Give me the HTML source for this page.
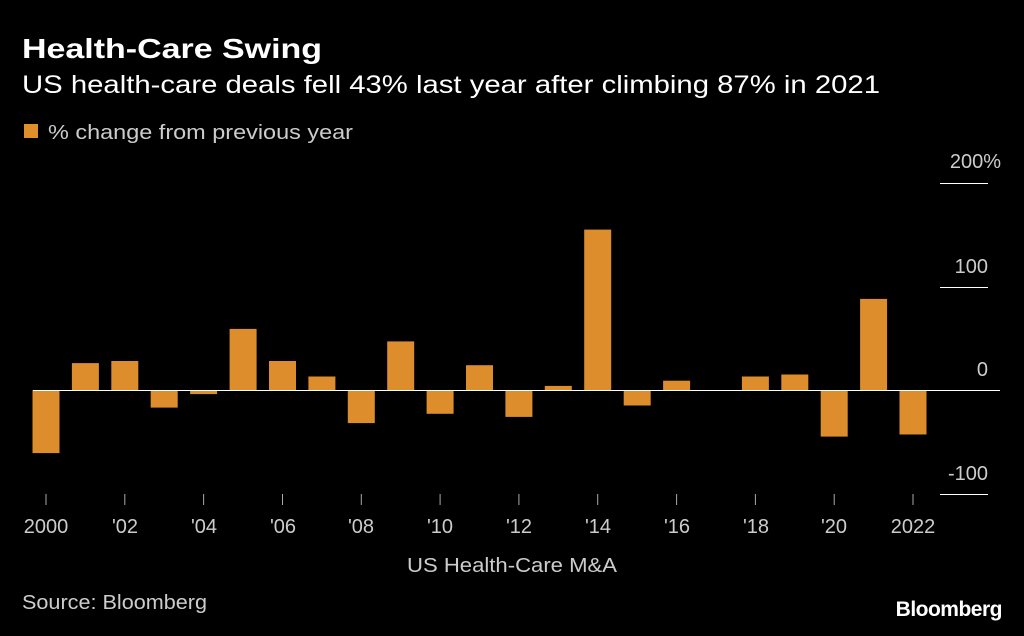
<!DOCTYPE html>
<html><head><style>
body{margin:0;background:#000;width:1024px;height:631px;overflow:hidden}
</style></head><body>
<svg width="1024" height="631" xmlns="http://www.w3.org/2000/svg" font-family="Liberation Sans, sans-serif">
<rect width="1024" height="631" fill="#000"/>
<text x="22" y="58" font-size="28" font-weight="bold" fill="#fff" textLength="300" lengthAdjust="spacingAndGlyphs">Health-Care Swing</text>
<text x="22" y="93" font-size="25" fill="#fff" textLength="858" lengthAdjust="spacingAndGlyphs">US health-care deals fell 43% last year after climbing 87% in 2021</text>
<rect x="24" y="124" width="14" height="14" fill="#e0902a"/>
<text x="48" y="139" font-size="20" fill="#ccc" textLength="305" lengthAdjust="spacingAndGlyphs">% change from previous year</text>
<g stroke="#fff" stroke-width="1">
<line x1="940" y1="183.5" x2="988" y2="183.5"/>
<line x1="940" y1="287.5" x2="988" y2="287.5"/>
<line x1="940" y1="494.5" x2="988" y2="494.5"/>
</g>
<g font-size="20" fill="#ccc" text-anchor="end">
<text x="1001" y="168">200%</text>
<text x="988" y="273">100</text>
<text x="988" y="376">0</text>
<text x="988" y="480">-100</text>
</g>
<g fill="#dd8d2b">
<rect x="32.5" y="390" width="27" height="63.1"/>
<rect x="71.9" y="363.1" width="27" height="26.9"/>
<rect x="111.3" y="361" width="27" height="29"/>
<rect x="150.7" y="390" width="27" height="17.6"/>
<rect x="190.1" y="390" width="27" height="4.1"/>
<rect x="229.6" y="328.9" width="27" height="61.1"/>
<rect x="269" y="361" width="27" height="29"/>
<rect x="308.4" y="376.5" width="27" height="13.5"/>
<rect x="347.8" y="390" width="27" height="33.1"/>
<rect x="387.2" y="341.4" width="27" height="48.6"/>
<rect x="426.6" y="390" width="27" height="23.8"/>
<rect x="466" y="365.2" width="27" height="24.8"/>
<rect x="505.4" y="390" width="27" height="26.9"/>
<rect x="544.8" y="385.9" width="27" height="4.1"/>
<rect x="584.2" y="229.6" width="27" height="160.4"/>
<rect x="623.7" y="390" width="27" height="15.5"/>
<rect x="663.1" y="380.7" width="27" height="9.3"/>
<rect x="702.5" y="390" width="27" height="1"/>
<rect x="741.9" y="376.5" width="27" height="13.5"/>
<rect x="781.3" y="374.5" width="27" height="15.5"/>
<rect x="820.7" y="390" width="27" height="46.6"/>
<rect x="860.1" y="298.9" width="27" height="91.1"/>
<rect x="899.5" y="390" width="27" height="44.5"/>
</g>
<line x1="33" y1="390.5" x2="1000" y2="390.5" stroke="#fff" stroke-width="1"/>
<g stroke="#aaa" stroke-width="1">
<line x1="46" y1="494" x2="46" y2="505"/><line x1="124.8" y1="494" x2="124.8" y2="505"/>
<line x1="203.6" y1="494" x2="203.6" y2="505"/><line x1="282.5" y1="494" x2="282.5" y2="505"/>
<line x1="361.3" y1="494" x2="361.3" y2="505"/><line x1="440.1" y1="494" x2="440.1" y2="505"/>
<line x1="518.9" y1="494" x2="518.9" y2="505"/><line x1="597.7" y1="494" x2="597.7" y2="505"/>
<line x1="676.6" y1="494" x2="676.6" y2="505"/><line x1="755.4" y1="494" x2="755.4" y2="505"/>
<line x1="834.2" y1="494" x2="834.2" y2="505"/><line x1="913" y1="494" x2="913" y2="505"/>
</g>
<g font-size="20" fill="#ccc" text-anchor="middle">
<text x="46" y="533">2000</text><text x="125" y="533">'02</text><text x="204" y="533">'04</text>
<text x="283" y="533">'06</text><text x="361" y="533">'08</text><text x="440" y="533">'10</text>
<text x="519" y="533">'12</text><text x="598" y="533">'14</text><text x="677" y="533">'16</text>
<text x="756" y="533">'18</text><text x="834" y="533">'20</text><text x="913" y="533">2022</text>
<text x="512" y="572" textLength="210" lengthAdjust="spacingAndGlyphs">US Health-Care M&amp;A</text>
</g>
<text x="22" y="609" font-size="20" fill="#ccc" textLength="185" lengthAdjust="spacingAndGlyphs">Source: Bloomberg</text>
<text x="1002" y="616" font-size="21" font-weight="bold" fill="#fff" text-anchor="end" letter-spacing="-0.5">Bloomberg</text>
</svg>
</body></html>
